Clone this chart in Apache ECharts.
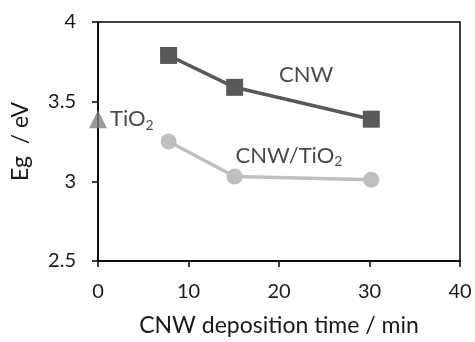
<!DOCTYPE html>
<html>
<head>
<meta charset="utf-8">
<script src="https://cdn.jsdelivr.net/npm/echarts@6/dist/echarts.min.js"></script>
<style>
  html, body { margin: 0; padding: 0; background: #fff; }
  #chart { width: 475px; height: 342px; }
</style>
</head>
<body>
<div id="chart"></div>
<script>
// 数据：沉积时间 (min) 与带隙 (eV)
const cnwTime = [7.8, 15.1, 30.2];
const cnwEg = [3.79, 3.59, 3.39];
const cnwTiO2Time = [7.8, 15.1, 30.2];
const cnwTiO2Eg = [3.25, 3.03, 3.01];
const tio2Time = [0];
const tio2Eg = [3.39];
// 文字标签的位置 (数据坐标)
const labelPos = [[23, 3.67], [21.1, 3.16]];
const labelText = ['CNW', 'CNW/TiO{s|2}'];
const xTicks = [0, 10, 20, 30, 40];
const yTicks = [2.5, 3, 3.5, 4];

const font = 'Lato, "Open Sans", sans-serif';
const textColor = '#1a1a1a';
const subStyle = { fontSize: 14, fontFamily: font, color: textColor, verticalAlign: 'bottom', padding: [12, 0, 0, 0] };

let myChart = echarts.init(document.getElementById('chart'));
myChart.setOption({
  backgroundColor: '#fff',
  animation: false,
  grid: {
    left: 98, top: 22, width: 362, height: 240,
    show: true, borderColor: '#000', borderWidth: 1.5
  },
  xAxis: {
    type: 'value',
    min: xTicks[0], max: xTicks[xTicks.length - 1], interval: 10,
    axisLine: { onZero: false, lineStyle: { color: '#000', width: 1.5 } },
    axisTick: { show: true, length: 6, lineStyle: { color: '#000', width: 1.5 } },
    splitLine: { show: false },
    axisLabel: { color: textColor, fontSize: 20, fontFamily: font, margin: 21 },
    name: 'CNW deposition time / min',
    nameLocation: 'middle',
    nameGap: 53,
    nameTextStyle: { color: textColor, fontSize: 23, fontFamily: font }
  },
  yAxis: {
    type: 'value',
    min: yTicks[0], max: yTicks[yTicks.length - 1], interval: 0.5,
    axisLine: { show: true, lineStyle: { color: '#000', width: 1.5 } },
    axisTick: { show: true, length: 6, lineStyle: { color: '#000', width: 1.5 } },
    splitLine: { show: false },
    axisLabel: { color: textColor, fontSize: 20, fontFamily: font, margin: 22 },
    name: 'Eg  / eV',
    nameLocation: 'middle',
    nameGap: 66,
    nameTextStyle: { color: textColor, fontSize: 23, fontFamily: font }
  },
  series: [
    {
      name: 'CNW',
      type: 'line',
      data: cnwTime.map((t, i) => [t, cnwEg[i]]),
      symbol: 'rect',
      symbolSize: 17,
      itemStyle: { color: '#595959' },
      lineStyle: { color: '#595959', width: 3.5 }
    },
    {
      name: 'CNW/TiO2',
      type: 'line',
      data: cnwTiO2Time.map((t, i) => [t, cnwTiO2Eg[i]]),
      symbol: 'circle',
      symbolSize: 16,
      itemStyle: { color: '#bfbfbf' },
      lineStyle: { color: '#bfbfbf', width: 3.5 }
    },
    {
      name: 'TiO2',
      type: 'scatter',
      data: tio2Time.map((t, i) => [t, tio2Eg[i]]),
      symbol: 'triangle',
      symbolSize: 18,
      itemStyle: { color: '#808080' },
      label: {
        show: true, position: 'right', distance: 3,
        formatter: 'TiO{s|2}',
        color: textColor, fontSize: 22, fontFamily: font,
        rich: { s: subStyle }
      },
      z: 5
    },
    {
      name: 'labels',
      type: 'scatter',
      symbol: 'circle',
      symbolSize: 2,
      itemStyle: { color: 'rgba(0,0,0,0)' },
      silent: true,
      data: labelPos,
      label: {
        show: true, position: 'inside',
        formatter: p => labelText[p.dataIndex],
        color: textColor, fontSize: 22, fontFamily: font,
        rich: { s: subStyle }
      },
      z: 6
    }
  ]
});
</script>
</body>
</html>
